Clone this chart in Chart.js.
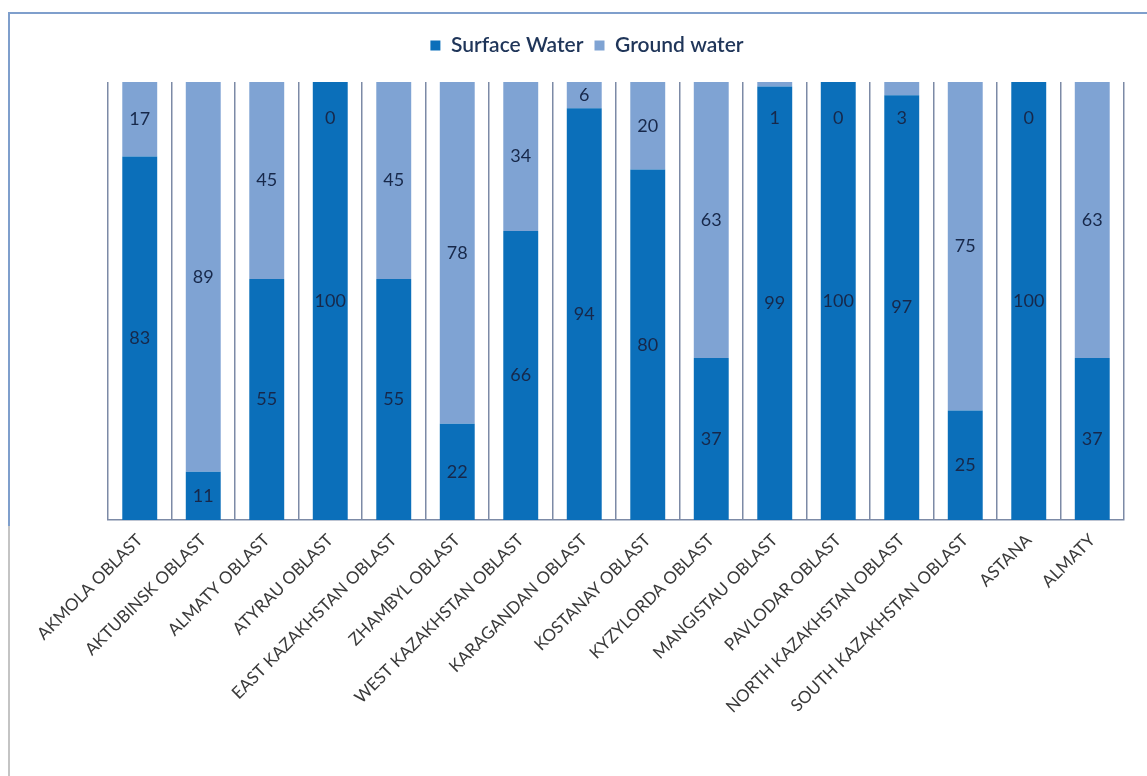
<!DOCTYPE html>
<html>
<head>
<meta charset="utf-8">
<script src="https://cdn.jsdelivr.net/npm/chart.js@4.4.1/dist/chart.umd.min.js"></script>
<style>
  html, body { margin: 0; padding: 0; background: #fff; }
  #wrap { position: relative; width: 1147px; height: 776px; }
  #frameTop { position: absolute; left: 8px; top: 12px; width: 1139px; height: 514px;
    border-top: 2px solid #7f9fcc; border-left: 2px solid #7f9fcc; box-sizing: border-box; }
  #frameLow { position: absolute; left: 8px; top: 526px; width: 2px; height: 250px; background: #c4c4c4; }
  canvas { position: absolute; left: 0; top: 0; }
</style>
</head>
<body>
<div id="wrap">
  <div id="frameTop"></div>
  <div id="frameLow"></div>
  <canvas id="waterChart" width="1147" height="776"></canvas>
</div>
<script>
const regions = ['AKMOLA OBLAST', 'AKTUBINSK OBLAST', 'ALMATY OBLAST', 'ATYRAU OBLAST', 'EAST KAZAKHSTAN OBLAST',
  'ZHAMBYL OBLAST', 'WEST KAZAKHSTAN OBLAST', 'KARAGANDAN OBLAST', 'KOSTANAY OBLAST', 'KYZYLORDA OBLAST',
  'MANGISTAU OBLAST', 'PAVLODAR OBLAST', 'NORTH KAZAKHSTAN OBLAST', 'SOUTH KAZAKHSTAN OBLAST', 'ASTANA', 'ALMATY'];
const surfaceWater = [83, 11, 55, 100, 55, 22, 66, 94, 80, 37, 99, 100, 97, 25, 100, 37];
const groundWater  = [17, 89, 45, 0, 45, 78, 34, 6, 20, 63, 1, 0, 3, 75, 0, 63];

const FONT = 'Lato, "Open Sans", sans-serif';

// extra room under the legend
const legendGap = {
  id: 'legendGap',
  beforeInit(chart) {
    const fit = chart.legend.fit;
    chart.legend.fit = function () {
      fit.bind(chart.legend)();
      this.height += 16;
    };
  }
};

// draws the value inside each stacked segment
const segmentLabels = {
  id: 'segmentLabels',
  afterDatasetsDraw(chart) {
    const ctx = chart.ctx;
    ctx.save();
    ctx.font = '18px ' + FONT;
    ctx.fillStyle = '#17284a';
    ctx.textAlign = 'center';
    ctx.textBaseline = 'middle';
    chart.data.datasets.forEach((ds, i) => {
      chart.getDatasetMeta(i).data.forEach((bar, j) => {
        const top = Math.min(bar.y, bar.base);
        const h = Math.abs(bar.base - bar.y);
        let y = top + h / 2;
        if (h < 20) y = top + 36; // tiny segments: label pushed down into the bar
        ctx.fillText(String(ds.data[j]), bar.x, y);
      });
    });
    ctx.restore();
  }
};

new Chart(document.getElementById('waterChart'), {
  type: 'bar',
  data: {
    labels: regions,
    datasets: [
      { label: 'Surface Water', data: surfaceWater, backgroundColor: '#0b6fba', barPercentage: 0.55, categoryPercentage: 1 },
      { label: 'Ground water', data: groundWater, backgroundColor: '#7fa3d3', barPercentage: 0.55, categoryPercentage: 1 }
    ]
  },
  options: {
    responsive: false, animation: false,
    layout: { padding: { left: 50, right: 23, top: 24, bottom: 0 } },
    plugins: {
      legend: {
        display: true, position: 'top',
        labels: { font: { size: 21, family: FONT, weight: '600' }, color: '#1f3559',
          boxWidth: 10, boxHeight: 10, padding: 11 }
      },
      tooltip: { enabled: false }
    },
    scales: {
      x: {
        stacked: true,
        offset: true,
        grid: { display: true, offset: true, color: '#7c8aa6', lineWidth: 1.5, drawTicks: false },
        border: { display: true, color: '#7c8aa6', width: 1.5 },
        ticks: { autoSkip: false, maxRotation: 45, minRotation: 45, padding: 10,
          font: { size: 17, family: FONT }, color: '#3a3a3a' },
        afterFit: s => { s.height = 256; }
      },
      y: {
        stacked: true, min: 0, max: 100,
        grid: { display: false }, border: { display: false },
        ticks: { display: false },
        afterFit: s => { s.width = 58; }
      }
    }
  },
  plugins: [legendGap, segmentLabels]
});
</script>
</body>
</html>
